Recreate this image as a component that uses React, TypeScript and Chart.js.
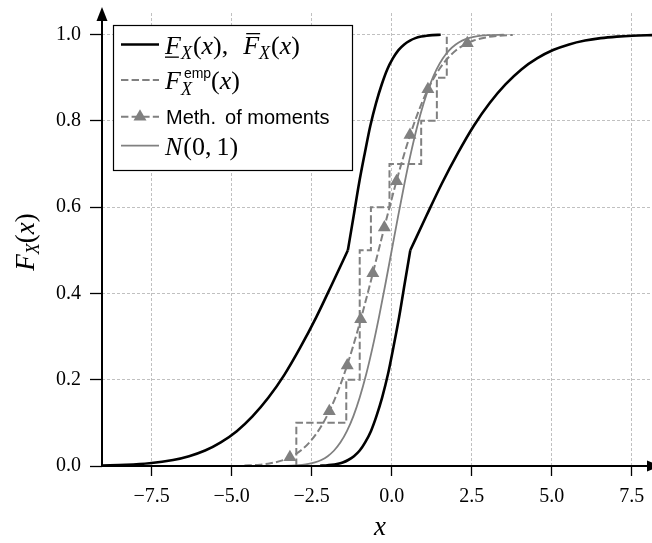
import React, { useEffect, useRef } from 'react';
import { Chart, registerables } from 'chart.js';

Chart.register(...registerables);

// ---- axis data ----
const xTicks = [-7.5, -5, -2.5, 0, 2.5, 5, 7.5];
const yTicks = [0, 0.2, 0.4, 0.6, 0.8, 1.0];
const xLimits = [-9.05, 8.13];
const yLimits = [0, 1.05];

// ---- upper CDF bound (left black curve), tail part and upper part ----
const boundLeftTailX = [-9.06, -8.31, -7.57, -6.83, -6.33, -5.83, -5.34, -4.84, -4.35, -3.85, -3.35, -2.86, -2.36, -1.87, -1.37];
const boundLeftTailY = [0.001, 0.0026, 0.0062, 0.0139, 0.0228, 0.0359, 0.0548, 0.0808, 0.1151, 0.1587, 0.2119, 0.2743, 0.3446, 0.4207, 0.5];
const boundLeftHeadX = [-1.37, -1.19, -1.02, -0.84, -0.67, -0.49, -0.31, -0.14, 0.04, 0.21, 0.39, 0.57, 0.74, 0.92, 1.09, 1.27, 1.53];
const boundLeftHeadY = [0.5, 0.5793, 0.6554, 0.7257, 0.7881, 0.8413, 0.8849, 0.9192, 0.9452, 0.9641, 0.9772, 0.9861, 0.9918, 0.9953, 0.9974, 0.9987, 0.9995];

// ---- lower CDF bound (right black curve), tail part and upper part ----
const boundRightTailX = [-2.24, -2.06, -1.88, -1.71, -1.53, -1.36, -1.18, -1.0, -0.83, -0.65, -0.48, -0.3, -0.12, 0.05, 0.23, 0.4, 0.58];
const boundRightTailY = [0.0007, 0.0013, 0.0026, 0.0047, 0.0082, 0.0139, 0.0228, 0.0359, 0.0548, 0.0808, 0.1151, 0.1587, 0.2119, 0.2743, 0.3446, 0.4207, 0.5];
const boundRightHeadX = [0.58, 1.08, 1.57, 2.07, 2.56, 3.06, 3.56, 4.05, 4.55, 5.04, 5.54, 6.04, 6.53, 7.03, 7.52, 8.2];
const boundRightHeadY = [0.5, 0.5793, 0.6554, 0.7257, 0.7881, 0.8413, 0.8849, 0.9192, 0.9452, 0.9641, 0.9772, 0.9861, 0.9918, 0.9953, 0.9974, 0.9989];

// ---- empirical sample (ECDF) ----
const ecdfSamples = [-2.98, -1.42, -1.0, -1.0, -1.0, -0.65, -0.07, 0.92, 1.41, 1.72];

// ---- method of moments fit ----
const momX = [-4.6, -4.19, -3.79, -3.38, -3.11, -2.84, -2.57, -2.3, -2.03, -1.76, -1.49, -1.22, -0.95, -0.68, -0.41, -0.14, 0.13, 0.4, 0.67, 0.94, 1.21, 1.48, 1.75, 2.02, 2.29, 2.56, 2.97, 3.37, 3.78];
const momY = [0.001, 0.0026, 0.0062, 0.0139, 0.0228, 0.0359, 0.0548, 0.0808, 0.1151, 0.1587, 0.2119, 0.2743, 0.3446, 0.4207, 0.5, 0.5793, 0.6554, 0.7257, 0.7881, 0.8413, 0.8849, 0.9192, 0.9452, 0.9641, 0.9772, 0.9861, 0.9938, 0.9974, 0.999];
const momMarkerX = [-3.18, -1.95, -1.39, -0.97, -0.59, -0.23, 0.15, 0.57, 1.13, 2.36];
const momMarkerY = [0.02, 0.127, 0.233, 0.34, 0.447, 0.553, 0.66, 0.767, 0.873, 0.98];

// ---- N(0,1) ----
const normX = [-3.5, -3.0, -2.8, -2.6, -2.4, -2.2, -2.0, -1.8, -1.6, -1.4, -1.2, -1.0, -0.8, -0.6, -0.4, -0.2, 0, 0.2, 0.4, 0.6, 0.8, 1.0, 1.2, 1.4, 1.6, 1.8, 2.0, 2.2, 2.4, 2.6, 2.8, 3.0, 3.5];
const normY = [0.0002, 0.0013, 0.0026, 0.0047, 0.0082, 0.0139, 0.0228, 0.0359, 0.0548, 0.0808, 0.1151, 0.1587, 0.2119, 0.2743, 0.3446, 0.4207, 0.5, 0.5793, 0.6554, 0.7257, 0.7881, 0.8413, 0.8849, 0.9192, 0.9452, 0.9641, 0.9772, 0.9861, 0.9918, 0.9953, 0.9974, 0.9987, 0.9998];

const SERIF = '"Liberation Serif", "Times New Roman", serif';
const SANS = '"Liberation Sans", Arial, sans-serif';
const GRAY = '#808080';
const MI = (s: number) => `italic ${s}px ${SERIF}`;
const MR = (s: number) => `${s}px ${SERIF}`;
const SS = (s: number) => `${s}px ${SANS}`;

const zip = (xs: number[], ys: number[]) => xs.map((x, i) => ({ x, y: ys[i] }));
const ecdfPoints = () => {
  const n = ecdfSamples.length;
  const pts = [{ x: ecdfSamples[0], y: 0 }];
  ecdfSamples.forEach((s, i) => pts.push({ x: s, y: (i + 1) / n }));
  return pts;
};
const fmt = (v: number) => (v < 0 ? '\u2212' : '') + Math.abs(v).toFixed(1);

type Seg = { t: string; f: string; dy?: number; dx?: number; bar?: 'under' | 'over'; noAdvance?: boolean; minAdv?: number };

function drawRich(ctx: CanvasRenderingContext2D, x: number, y: number, segs: Seg[], draw = true): number {
  let cx = x;
  for (const s of segs) {
    ctx.font = s.f;
    const w = ctx.measureText(s.t).width;
    const px = cx + (s.dx || 0);
    if (draw) {
      ctx.fillText(s.t, px, y + (s.dy || 0));
      if (s.bar === 'under') ctx.fillRect(px, y + 2.5, w - 2, 1.3);
      if (s.bar === 'over') ctx.fillRect(px + 3, y - 21, w - 2, 1.3);
    }
    if (!s.noAdvance) cx += Math.max(w + (s.dx || 0), s.minAdv || 0);
  }
  return cx - x;
}

const decor = {
  id: 'decor',
  afterDraw(chart: any) {
    const ctx: CanvasRenderingContext2D = chart.ctx;
    const { left, bottom } = chart.chartArea;
    ctx.save();
    ctx.textBaseline = 'alphabetic';
    ctx.textAlign = 'left';
    ctx.setLineDash([]);
    // axes with arrows
    ctx.strokeStyle = '#000';
    ctx.fillStyle = '#000';
    ctx.lineWidth = 2;
    ctx.beginPath();
    ctx.moveTo(left, bottom);
    ctx.lineTo(left, 18);
    ctx.stroke();
    ctx.beginPath();
    ctx.moveTo(left, 7);
    ctx.lineTo(left - 5.5, 21);
    ctx.lineTo(left + 5.5, 21);
    ctx.closePath();
    ctx.fill();
    ctx.beginPath();
    ctx.moveTo(left, bottom);
    ctx.lineTo(650, bottom);
    ctx.stroke();
    ctx.beginPath();
    ctx.moveTo(661, bottom);
    ctx.lineTo(647, bottom - 5.5);
    ctx.lineTo(647, bottom + 5.5);
    ctx.closePath();
    ctx.fill();

    // axis titles
    const ySegs: Seg[] = [
      { t: 'F', f: MI(27) },
      { t: 'X', f: MI(18), dy: 5 },
      { t: '(', f: MR(27) },
      { t: 'x', f: MI(27) },
      { t: ')', f: MR(27) },
    ];
    const yw = drawRich(ctx, 0, 0, ySegs, false);
    ctx.save();
    ctx.translate(34, 242);
    ctx.rotate(-Math.PI / 2);
    drawRich(ctx, -yw / 2, 0, ySegs);
    ctx.restore();
    ctx.font = MI(27);
    const xw = ctx.measureText('x').width;
    ctx.fillText('x', 380 - xw / 2, 535);

    // legend
    const bx = 113.5, by = 25.5, bw = 239, bh = 145;
    ctx.fillStyle = '#fff';
    ctx.fillRect(bx, by, bw, bh);
    ctx.strokeStyle = '#000';
    ctx.lineWidth = 1.2;
    ctx.strokeRect(bx, by, bw, bh);
    const lx0 = 121, lx1 = 159, tx = 165;
    const rowY = [44.5, 80, 116.7, 145.7];
    // row 1
    ctx.strokeStyle = '#000';
    ctx.lineWidth = 2.6;
    ctx.beginPath(); ctx.moveTo(lx0, rowY[0]); ctx.lineTo(lx1, rowY[0]); ctx.stroke();
    // row 2
    ctx.strokeStyle = GRAY;
    ctx.lineWidth = 2;
    ctx.setLineDash([7.4, 3.2]);
    ctx.beginPath(); ctx.moveTo(lx0, rowY[1]); ctx.lineTo(lx1, rowY[1]); ctx.stroke();
    // row 3
    ctx.beginPath(); ctx.moveTo(lx0, rowY[2]); ctx.lineTo(lx1, rowY[2]); ctx.stroke();
    ctx.setLineDash([]);
    ctx.fillStyle = GRAY;
    const r = 7.5, cx = (lx0 + lx1) / 2, cy = rowY[2];
    ctx.beginPath();
    ctx.moveTo(cx, cy - r);
    ctx.lineTo(cx + r * Math.sin((2 * Math.PI) / 3), cy - r * Math.cos((2 * Math.PI) / 3));
    ctx.lineTo(cx + r * Math.sin((4 * Math.PI) / 3), cy - r * Math.cos((4 * Math.PI) / 3));
    ctx.closePath();
    ctx.fill();
    // row 4
    ctx.lineWidth = 1.8;
    ctx.beginPath(); ctx.moveTo(lx0, rowY[3]); ctx.lineTo(lx1, rowY[3]); ctx.stroke();

    ctx.fillStyle = '#000';
    drawRich(ctx, tx, 54, [
      { t: 'F', f: MI(26), bar: 'under' },
      { t: 'X', f: MI(18), dy: 5 },
      { t: '(', f: MR(26), dx: 1 },
      { t: 'x', f: MI(26) },
      { t: ')', f: MR(26) },
      { t: ',', f: MR(26) },
      { t: '  ', f: MR(26), dx: 2 },
      { t: 'F', f: MI(26), bar: 'over' },
      { t: 'X', f: MI(18), dy: 5 },
      { t: '(', f: MR(26), dx: 1 },
      { t: 'x', f: MI(26) },
      { t: ')', f: MR(26) },
    ]);
    ctx.font = SS(14);
    const ew = ctx.measureText('emp').width + 3;
    drawRich(ctx, tx, 88.5, [
      { t: 'F', f: MI(26) },
      { t: 'emp', f: SS(14), dy: -11, dx: 3, noAdvance: true },
      { t: 'X', f: MI(18), dy: 6, minAdv: ew },
      { t: '(', f: MR(26) },
      { t: 'x', f: MI(26) },
      { t: ')', f: MR(26) },
    ]);
    drawRich(ctx, tx + 1, 123.5, [
      { t: 'Meth.', f: SS(20) },
      { t: 'of moments', f: SS(20), dx: 9 },
    ]);
    drawRich(ctx, tx, 154.5, [
      { t: 'N', f: MI(26) },
      { t: '(0,', f: MR(26), dx: 1 },
      { t: '1)', f: MR(26), dx: 5 },
    ]);
    ctx.restore();
  },
};

export default function App() {
  const ref = useRef<HTMLCanvasElement>(null);
  useEffect(() => {
    const gridOpts = {
      color: '#b0b0b0',
      lineWidth: 0.8,
      drawTicks: true,
      tickColor: '#000',
      tickWidth: 1.3,
      tickBorderDash: [],
    };
    const black = (xs: number[], ys: number[]) => ({
      data: zip(xs, ys),
      showLine: true,
      borderColor: '#000',
      borderWidth: 2.6,
      pointRadius: 0,
      cubicInterpolationMode: 'monotone',
    });
    const chart = new Chart(ref.current as HTMLCanvasElement, {
      type: 'scatter',
      data: {
        datasets: [
          black(boundLeftTailX, boundLeftTailY),
          black(boundLeftHeadX, boundLeftHeadY),
          black(boundRightTailX, boundRightTailY),
          black(boundRightHeadX, boundRightHeadY),
          {
            data: zip(momMarkerX, momMarkerY),
            showLine: false,
            pointStyle: 'triangle',
            pointRadius: 7.5,
            pointHoverRadius: 7.5,
            pointBackgroundColor: GRAY,
            pointBorderWidth: 0,
          },
          {
            data: zip(momX, momY),
            showLine: true,
            borderColor: GRAY,
            borderWidth: 2,
            borderDash: [7.4, 3.2],
            pointRadius: 0,
            cubicInterpolationMode: 'monotone',
          },
          {
            data: zip(normX, normY),
            showLine: true,
            borderColor: GRAY,
            borderWidth: 1.8,
            pointRadius: 0,
            cubicInterpolationMode: 'monotone',
          },
          {
            data: ecdfPoints(),
            showLine: true,
            stepped: 'before',
            borderColor: GRAY,
            borderWidth: 2,
            borderDash: [7.4, 3.2],
            pointRadius: 0,
          },
        ],
      },
      options: {
        animation: false,
        responsive: false,
        layout: { autoPadding: false, padding: { top: 13, left: 0, right: 0, bottom: 0 } },
        plugins: { legend: { display: false }, tooltip: { enabled: false } },
        scales: {
          x: {
            type: 'linear',
            min: xLimits[0],
            max: xLimits[1],
            afterBuildTicks: (s: any) => {
              s.ticks = xTicks.map((v) => ({ value: v }));
            },
            afterFit: (s: any) => {
              s.height = 77;
              s.paddingLeft = 0;
              s.paddingRight = 0;
            },
            grid: { ...gridOpts, tickLength: 10 },
            border: { display: false, dash: [3, 2] },
            ticks: {
              font: { family: 'Liberation Serif', size: 20 },
              color: '#000',
              padding: 9,
              maxRotation: 0,
              autoSkip: false,
              callback: (v: any) => fmt(Number(v)),
            },
          },
          y: {
            type: 'linear',
            min: yLimits[0],
            max: yLimits[1],
            afterBuildTicks: (s: any) => {
              s.ticks = yTicks.map((v) => ({ value: v }));
            },
            afterFit: (s: any) => {
              s.width = 102;
              s.paddingTop = 0;
              s.paddingBottom = 0;
            },
            grid: { ...gridOpts, tickLength: 12 },
            border: { display: false, dash: [3, 2] },
            ticks: {
              font: { family: 'Liberation Serif', size: 20 },
              color: '#000',
              padding: 9,
              autoSkip: false,
              callback: (v: any) => fmt(Number(v)),
            },
          },
        },
      },
      plugins: [decor],
    } as any);
    return () => chart.destroy();
  }, []);
  return (
    <div style={{ position: 'absolute', left: 0, top: 0, width: 652, height: 543, background: '#fff' }}>
      <canvas ref={ref} width={652} height={543} style={{ display: 'block', width: 652, height: 543 }} />
    </div>
  );
}
